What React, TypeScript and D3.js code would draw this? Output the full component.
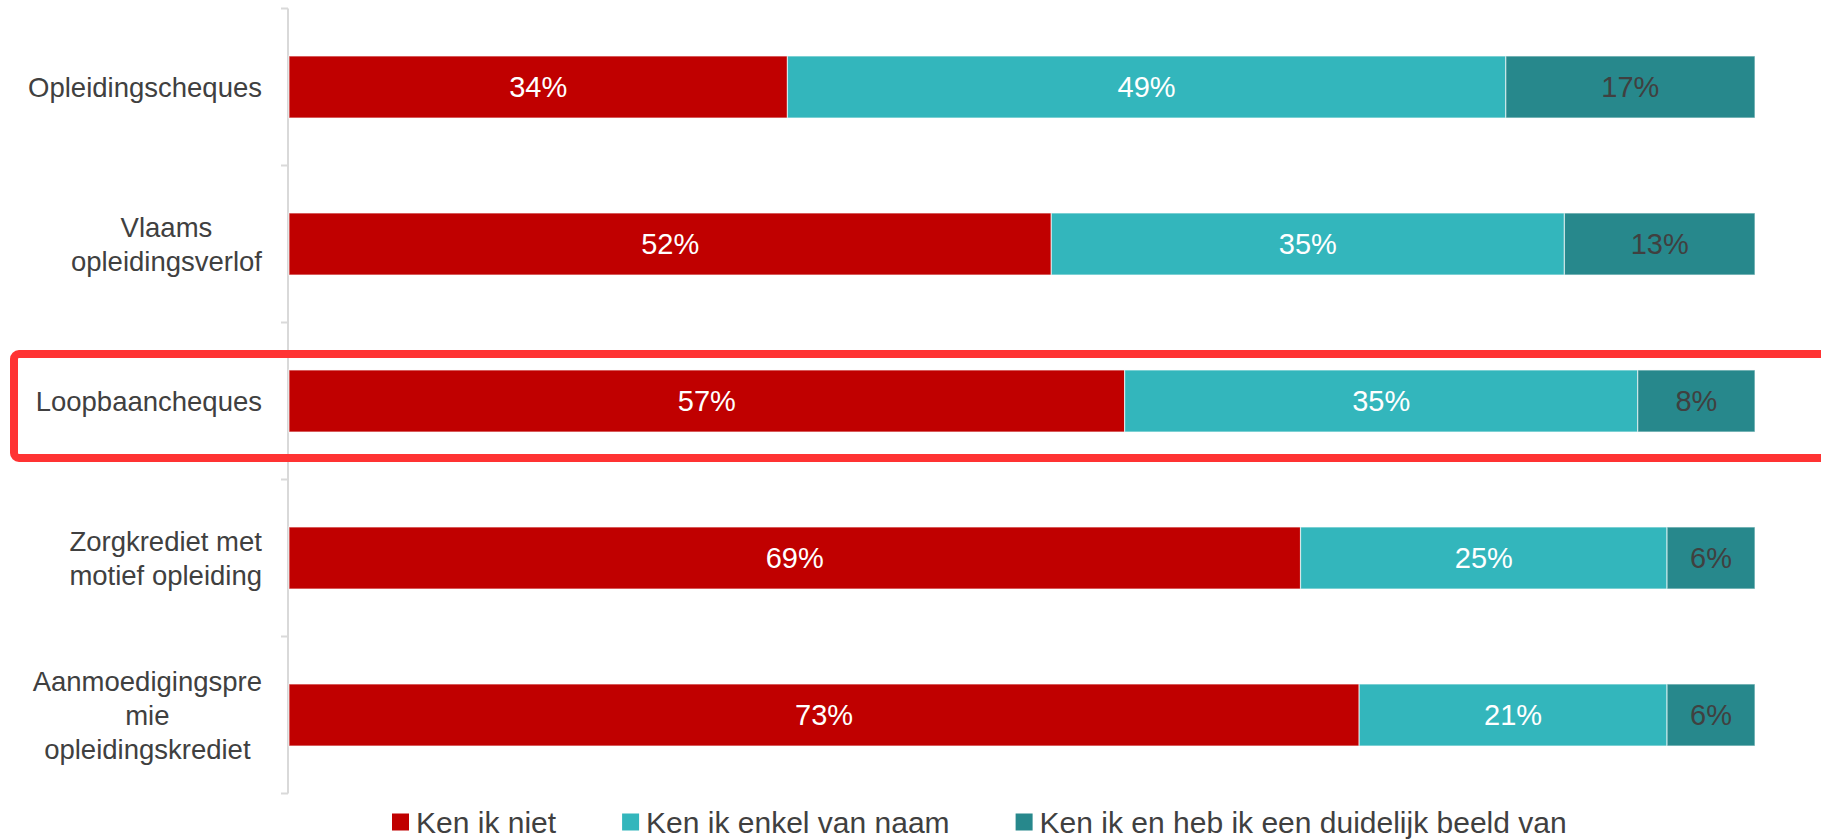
import React, { useEffect, useRef } from "react";
import * as d3 from "d3";

const categories = [
  "Opleidingscheques",
  "Vlaams\nopleidingsverlof",
  "Loopbaancheques",
  "Zorgkrediet met\nmotief opleiding",
  "Aanmoedigingspre\nmie\nopleidingskrediet",
];
const seriesNames = [
  "Ken ik niet",
  "Ken ik enkel van naam",
  "Ken ik en heb ik een duidelijk beeld van",
];
const kenNiet = [34, 52, 57, 69, 73];
const kenNaam = [49, 35, 35, 25, 21];
const kenBeeld = [17, 13, 8, 6, 6];
const highlighted = "Loopbaancheques";

const colors = ["#C00000", "#33B6BC", "#27888C"];
const labelColors = ["#FFFFFF", "#FFFFFF", "#404040"];
const font = "'Liberation Sans', Arial, sans-serif";

const App: React.FC = () => {
  const ref = useRef<SVGSVGElement>(null);

  useEffect(() => {
    const width = 1821;
    const height = 839;
    const left = 289;
    const right = 1755;
    const svg = d3.select(ref.current);
    svg.selectAll("*").remove();

    const x = d3.scaleLinear().domain([0, 100]).range([left, right]);
    const y = d3
      .scaleBand<string>()
      .domain(categories)
      .range([8.5, 793.5])
      .paddingInner(0.605)
      .paddingOuter(0.3025);

    const rows = categories.map((c, i) => {
      const vals = [kenNiet[i], kenNaam[i], kenBeeld[i]];
      let acc = 0;
      return vals.map((v, s) => {
        const seg = { cat: c, s, v, x0: acc, x1: acc + v };
        acc += v;
        return seg;
      });
    });
    const segs = rows.flat();

    // axis line with ticks between categories
    const axis = svg.append("g").attr("stroke", "#D9D9D9").attr("stroke-width", 2);
    axis
      .append("line")
      .attr("x1", left - 1)
      .attr("x2", left - 1)
      .attr("y1", y.range()[0])
      .attr("y2", y.range()[1]);
    const bounds = d3.range(categories.length + 1).map((i) => y.range()[0] + i * y.step());
    axis
      .selectAll("line.tick")
      .data(bounds)
      .enter()
      .append("line")
      .attr("class", "tick")
      .attr("x1", left - 8)
      .attr("x2", left - 1)
      .attr("y1", (d) => d)
      .attr("y2", (d) => d);

    svg
      .append("g")
      .selectAll("rect")
      .data(segs)
      .enter()
      .append("rect")
      .attr("x", (d) => x(d.x0))
      .attr("width", (d) => x(d.x1) - x(d.x0))
      .attr("y", (d) => y(d.cat) as number)
      .attr("height", y.bandwidth())
      .attr("fill", (d) => colors[d.s])
      .attr("stroke", "rgba(255,255,255,0.6)")
      .attr("stroke-width", 1.2);

    svg
      .append("g")
      .selectAll("text")
      .data(segs)
      .enter()
      .append("text")
      .attr("x", (d) => (x(d.x0) + x(d.x1)) / 2)
      .attr("y", (d) => (y(d.cat) as number) + y.bandwidth() / 2)
      .attr("dy", "0.35em")
      .attr("text-anchor", "middle")
      .attr("font-family", font)
      .attr("font-size", 29)
      .attr("fill", (d) => labelColors[d.s])
      .text((d) => `${d.v}%`);

    // category labels, lines centred within block that is right-aligned to axis
    const catG = svg.append("g").attr("font-family", font).attr("font-size", 27.5).attr("fill", "#404040");
    categories.forEach((c) => {
      const lines = c.split("\n");
      const lh = 34;
      const cy = (y(c) as number) + y.bandwidth() / 2;
      const t = catG.append("text").attr("text-anchor", "middle");
      const spans = lines.map((ln, i) =>
        t
          .append("tspan")
          .attr("y", cy + (i - (lines.length - 1) / 2) * lh)
          .attr("dy", "0.35em")
          .text(ln)
      );
      const maxW = d3.max(spans, (s) => (s.node() as SVGTSpanElement).getComputedTextLength()) || 0;
      const cx = left - 27 - maxW / 2;
      spans.forEach((s) => s.attr("x", cx));
    });

    // highlight box
    const hy = y(highlighted) as number;
    svg
      .append("rect")
      .attr("x", 14)
      .attr("y", hy - 16)
      .attr("width", width)
      .attr("height", y.bandwidth() + 42)
      .attr("rx", 5)
      .attr("fill", "none")
      .attr("stroke", "#FF3333")
      .attr("stroke-width", 8);

    // legend
    const lg = svg.append("g").attr("font-family", font).attr("font-size", 30).attr("fill", "#404040");
    let lx = 392;
    const ly = 822;
    seriesNames.forEach((name, i) => {
      lg.append("rect")
        .attr("x", lx)
        .attr("y", ly - 8.5)
        .attr("width", 17)
        .attr("height", 17)
        .attr("fill", colors[i]);
      const t = lg
        .append("text")
        .attr("x", lx + 24)
        .attr("y", ly)
        .attr("dy", "0.35em")
        .text(name);
      const w = (t.node() as SVGTextElement).getComputedTextLength();
      lx = lx + 24 + w + 66;
    });

    svg.attr("width", width).attr("height", height);
  }, []);

  return (
    <svg
      ref={ref}
      width={1821}
      height={839}
      style={{ position: "absolute", left: 0, top: 0, background: "#fff" }}
    />
  );
};

export default App;
